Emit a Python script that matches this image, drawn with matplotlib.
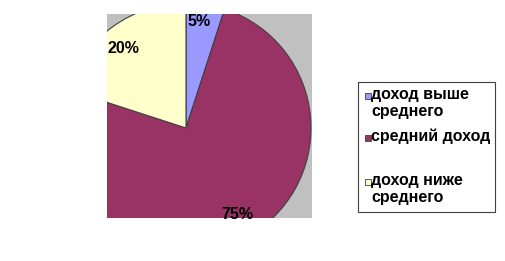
import numpy as np
import matplotlib.pyplot as plt
from matplotlib.patches import Rectangle

# данные
categories = ['доход выше\nсреднего', 'средний доход\n', 'доход ниже\nсреднего']
values = [5, 75, 20]
colors = ['#9999FF', '#993366', '#FFFFCC']

plt.rcParams['font.family'] = ['Liberation Sans', 'DejaVu Sans']

W, H = 506, 261
fig = plt.figure(figsize=(W / 100, H / 100), dpi=100)

# область построения (серый фон), в пикселях
px0, py0, px1, py1 = 107, 14, 312, 218
ax = fig.add_axes([px0 / W, 1 - py1 / H, (px1 - px0) / W, (py1 - py0) / H])

wedges, texts, autotexts = ax.pie(values, colors=colors, startangle=90, counterclock=False,
                                  autopct='%1.0f%%', pctdistance=0.86,
                                  wedgeprops=dict(edgecolor='#404040', linewidth=0.8),
                                  textprops=dict(fontsize=11.5, fontweight='bold', color='black'))
ax.set_frame_on(True)
ax.set_facecolor('#C0C0C0')
for w in wedges:
    w.set_clip_on(True)
    w.set_clip_path(ax.patch)
for s in ax.spines.values():
    s.set_visible(False)

# подписи процентов (порядок как в values: 5, 75, 20)
label_dist = [0.874, 0.795, 0.824]
label_shift = [2.2, 4.2, 1.7]  # градусы
for w, t, d, sh in zip(wedges, autotexts, label_dist, label_shift):
    th = np.deg2rad((w.theta1 + w.theta2) / 2 + sh)
    t.set_position((d * np.cos(th), d * np.sin(th) - 0.015))

# центр пирога (186,128), радиус 125 пикселей
r = 125.0
cx, cy = 186, 128
ax.set_aspect('auto')
ax.set_xlim((px0 - cx) / r, (px1 - cx) / r)
ax.set_ylim((cy - py1) / r, (cy - py0) / r)

# легенда вручную
lx0, ly0, lx1, ly1 = 358, 82, 495, 212
fig.patches.append(Rectangle((lx0 / W, 1 - ly1 / H), (lx1 - lx0) / W, (ly1 - ly0) / H,
                             transform=fig.transFigure, facecolor='white',
                             edgecolor='#404040', linewidth=0.8))
rows = [96, 138, 182]
for lab, col, yy in zip(categories, colors, rows):
    fig.patches.append(Rectangle((365 / W, 1 - (yy + 3) / H), 6 / W, 6 / H,
                                 transform=fig.transFigure, facecolor=col,
                                 edgecolor='#404040', linewidth=0.6))
    fig.text(371 / W, 1 - (yy - 9) / H, lab, fontsize=11.5, fontweight='bold',
             va='top', ha='left', linespacing=1.2)

fig.savefig('out.png', dpi=100)
